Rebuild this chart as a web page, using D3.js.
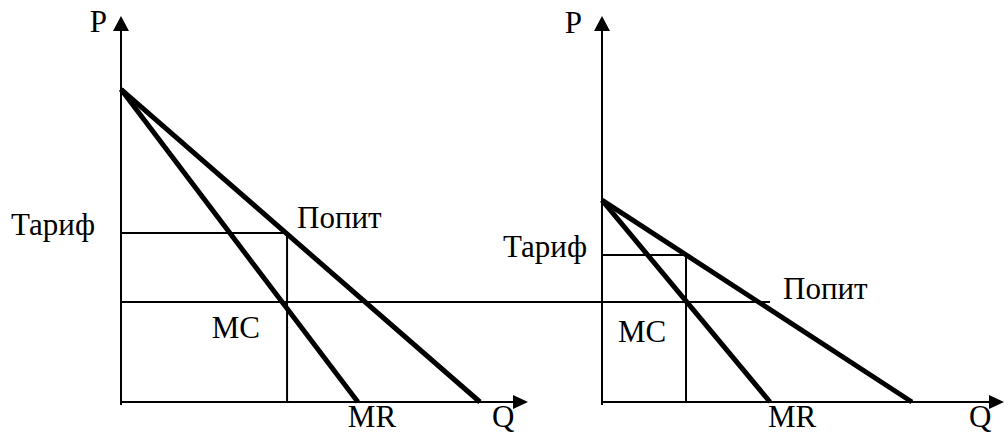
<!DOCTYPE html>
<html>
<head>
<meta charset="utf-8">
<script src="https://cdn.jsdelivr.net/npm/d3@7"></script>
</head>
<body style="margin:0; background:#fff">
<script>

// values per panel: [left, right]
var demandP = [8.1, 5.23];   // price where demand & MR start
var demandQ = [8.82, 7.71];  // demand hits Q axis
var mrQ = [5.82, 4.18];      // MR hits Q axis
var tariffP = [4.38, 3.81];
var tariffQ = [4.08, 2.09];
var mcP = 2.59;              // shared MC level
var mcEndQ = 4.18;           // MC line ends here on the right panel
var axisMax = 10;

var width = 1004;
var height = 434;

var svg = d3
    .select('body')
    .append('svg')
    .attr('width', width)
    .attr('height', height);

var y = d3.scaleLinear().domain([0, axisMax]).range([402, 16]);

var xScales = [
    d3.scaleLinear().domain([0, axisMax]).range([121, 528]),
    d3.scaleLinear().domain([0, axisMax]).range([602, 1004])
];

var line = d3.line().x(d => d[0]).y(d => d[1]);

function seg(x, pts) {
    return line(pts.map(p => [x(p[0]), y(p[1])]));
}

var labels = svg.append('g').attr('fill', '#000');

function label(px, py, txt, anchor) {
    return labels.append('text')
        .attr('x', px)
        .attr('y', py)
        .attr('text-anchor', anchor || 'start')
        .style('font-family', "'Liberation Serif'")
        .style('font-size', '31px')
        .text(txt);
}

xScales.forEach(function(x, i) {
    var g = svg.append('g');

    // axes
    g.append('path')
        .attr('d', line([[x(0), y(0) + 3], [x(0), y(axisMax) + 14]]))
        .attr('stroke', '#000').attr('stroke-width', 2).attr('fill', 'none');
    g.append('path')
        .attr('d', line([[x(0), y(0)], [x(axisMax) - 14, y(0)]]))
        .attr('stroke', '#000').attr('stroke-width', 2).attr('fill', 'none');

    // arrow heads
    g.append('path')
        .attr('d', line([[x(0), y(axisMax)], [x(0) - 8, y(axisMax) + 15], [x(0) + 8, y(axisMax) + 15]]) + 'Z')
        .attr('fill', '#000');
    g.append('path')
        .attr('d', line([[x(axisMax), y(0)], [x(axisMax) - 15, y(0) - 7], [x(axisMax) - 15, y(0) + 7]]) + 'Z')
        .attr('fill', '#000');

    // tariff box
    g.append('path')
        .attr('d', seg(x, [[0, tariffP[i]], [tariffQ[i], tariffP[i]], [tariffQ[i], 0]]))
        .attr('stroke', '#000').attr('stroke-width', 2).attr('fill', 'none');

    // demand and MR
    g.append('path')
        .attr('d', seg(x, [[0, demandP[i]], [demandQ[i], 0]]))
        .attr('stroke', '#000').attr('stroke-width', 5).attr('fill', 'none');
    g.append('path')
        .attr('d', seg(x, [[0, demandP[i]], [mrQ[i], 0]]))
        .attr('stroke', '#000').attr('stroke-width', 5).attr('fill', 'none');

    // labels
    label(x(0) - (i ? 20 : 14), i ? 33 : 32, 'P', 'end');
    label(x(0) - (i ? 15 : 26), y(tariffP[i]) + 2, 'Тариф', 'end');
    label(x(mrQ[i]) - (i ? 2 : 10), y(0) + 25, 'MR');
    label(x(axisMax) - (i ? 35 : 36), y(0) + 25, 'Q');
});

// MC line runs across both panels
var xl = xScales[0], xr = xScales[1];
svg.append('path')
    .attr('d', line([[xl(0), y(mcP)], [xr(mcEndQ), y(mcP)]]))
    .attr('stroke', '#000').attr('stroke-width', 2).attr('fill', 'none');

label(xl(tariffQ[0]) - 27, y(mcP) + 36, 'MC', 'end');
label(xr(0) + 16, y(mcP) + 40, 'MC');

label(xl(tariffQ[0]) + 10, y(tariffP[0]) - 5, 'Попит');
label(xr(mcEndQ) + 13, y(mcP) - 3, 'Попит');

</script>
</body>
</html>
